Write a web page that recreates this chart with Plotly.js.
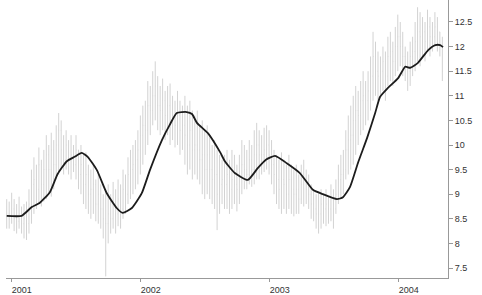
<!DOCTYPE html>
<html>
<head>
<meta charset="utf-8">
<script src="https://cdn.plot.ly/plotly-3.0.1.min.js"></script>
<style>html,body{margin:0;padding:0;background:#fff;}#chart{width:482px;height:295px;}</style>
</head>
<body>
<div id="chart"></div>
<script>
// Weekly bars starting 2000-12-18
const startDate = '2000-12-18';
const high = [
8.9,8.85,9.03,8.9,8.8,8.95,8.75,8.8,8.85,9.1,
9.5,9.75,9.6,9.95,9.7,9.9,10.2,10.0,10.25,10.1,
10.4,10.65,10.5,10.2,10.3,10.1,10.2,10.0,10.2,9.9,
10.0,9.8,9.85,9.6,9.5,9.6,9.3,9.4,9.2,9.0,
9.1,9.2,9.0,9.25,9.1,9.3,9.2,9.5,9.4,9.75,
9.9,10.0,10.1,10.3,10.6,10.8,10.9,11.3,11.2,11.5,
11.7,11.4,11.2,11.35,11.1,11.2,11.25,11.0,10.9,11.1,
10.9,10.8,11.0,10.8,10.9,10.7,10.6,10.7,10.4,10.5,
10.3,10.4,10.2,10.0,10.1,9.9,9.8,9.7,9.8,9.9,
9.7,9.9,9.8,9.6,9.8,10.1,10.0,9.9,10.1,10.0,
10.3,10.45,10.3,10.2,10.35,10.4,10.3,10.1,9.9,9.8,
9.7,9.85,9.7,9.6,9.8,9.6,9.5,9.6,9.4,9.6,
9.7,9.5,9.4,9.2,9.1,9.0,9.05,9.1,9.0,9.1,
8.95,9.2,9.1,9.3,9.6,9.8,9.9,10.3,10.6,10.8,
11.0,11.2,11.1,11.3,11.5,11.3,11.5,11.8,12.3,12.1,
11.9,11.8,12.0,11.9,12.2,12.3,12.1,12.4,12.65,12.5,
12.3,12.0,11.9,12.1,12.2,12.5,12.8,12.7,12.6,12.5,
12.75,12.6,12.5,12.7,12.6,12.3,12.2];
const low = [
8.3,8.3,8.4,8.25,8.2,8.3,8.2,8.1,8.07,8.2,
8.4,8.6,8.7,8.8,8.75,8.85,8.9,9.0,8.95,9.1,
9.3,9.4,9.5,9.4,9.5,9.4,9.3,9.45,9.3,9.1,
9.0,8.8,8.7,8.6,8.5,8.6,8.45,8.4,8.3,8.1,
7.33,8.0,8.2,8.3,8.2,8.35,8.3,8.5,8.6,8.8,
8.9,9.0,9.1,9.2,9.4,9.6,9.8,10.0,10.2,10.4,
10.5,10.3,10.2,10.3,10.1,10.2,10.0,10.1,9.95,10.0,
9.8,9.9,9.6,9.4,9.5,9.3,9.4,9.3,9.2,9.0,
8.9,9.0,8.9,8.8,8.7,8.27,8.6,8.8,8.7,8.7,
8.6,8.7,8.8,8.65,8.8,9.0,9.1,9.1,9.2,9.15,
9.2,9.3,9.3,9.4,9.45,9.5,9.4,9.2,9.0,8.8,
8.7,8.6,8.7,8.6,8.7,8.6,8.55,8.6,8.6,8.8,
8.75,8.8,8.7,8.5,8.45,8.3,8.2,8.3,8.4,8.35,
8.4,8.45,8.3,8.6,8.8,8.9,9.0,9.3,9.4,9.5,
9.6,9.8,10.0,10.2,10.3,10.4,10.5,10.7,10.9,11.0,
10.9,11.0,11.1,10.9,11.2,11.3,11.2,11.4,11.5,11.6,
11.4,11.3,11.1,11.2,11.4,11.5,11.7,11.6,11.8,11.7,
11.9,11.8,11.9,12.0,11.9,11.8,11.3];
const close = [
8.6,8.5,8.7,8.5,8.45,8.6,8.4,8.5,8.4,8.8,
9.2,9.3,9.1,9.6,9.2,9.5,9.8,9.5,9.9,9.6,
10.0,10.3,9.9,9.7,10.0,9.7,9.8,9.6,9.9,9.4,
9.6,9.2,9.4,9.0,9.1,9.2,8.8,9.0,8.7,8.5,
8.4,8.6,8.5,8.8,8.6,8.9,8.7,9.1,9.0,9.4,
9.5,9.6,9.7,9.9,10.2,10.4,10.3,10.8,10.7,11.0,
11.2,10.8,10.7,10.9,10.6,10.8,10.5,10.6,10.4,10.6,
10.3,10.4,10.2,10.0,10.3,9.9,10.0,9.9,9.7,9.8,
9.5,9.8,9.5,9.3,9.4,9.0,9.2,9.3,9.2,9.4,
9.1,9.3,9.2,9.1,9.3,9.6,9.5,9.4,9.7,9.5,
9.8,10.0,9.8,9.8,9.9,10.0,9.8,9.6,9.4,9.3,
9.1,9.3,9.2,9.0,9.3,9.1,9.0,9.1,8.9,9.2,
9.3,9.1,9.0,8.8,8.7,8.6,8.6,8.8,8.7,8.8,
8.7,8.9,8.7,9.0,9.3,9.4,9.5,9.9,10.1,10.2,
10.5,10.7,10.6,10.9,11.0,10.9,11.1,11.4,11.8,11.5,
11.4,11.5,11.7,11.4,11.8,11.9,11.7,12.0,12.2,12.0,
11.8,11.6,11.5,11.8,11.9,12.1,12.3,12.2,12.3,12.1,
12.4,12.2,12.2,12.4,12.3,12.0,11.5];

// Moving average line
const maDates = ['2000-12-18','2001-01-29','2001-02-27','2001-03-21','2001-04-19','2001-05-11','2001-06-06','2001-06-28','2001-07-18','2001-08-04','2001-08-30','2001-09-27','2001-10-25','2001-11-11','2001-12-07','2002-01-04','2002-01-27','2002-03-02','2002-03-24','2002-04-13','2002-05-11','2002-05-26','2002-06-09','2002-07-10','2002-08-13','2002-08-27','2002-09-24','2002-10-31','2002-11-28','2002-12-21','2003-01-16','2003-02-18','2003-03-27','2003-05-03','2003-05-31','2003-07-10','2003-07-27','2003-08-16','2003-09-08','2003-10-03','2003-10-26','2003-11-09','2003-12-01','2003-12-30','2004-01-19','2004-02-02','2004-02-24','2004-03-24','2004-04-13','2004-04-27','2004-05-05'];
const maValues = [8.56,8.56,8.74,8.82,9.04,9.41,9.67,9.76,9.84,9.76,9.49,9.02,8.72,8.62,8.72,9.02,9.49,10.10,10.41,10.65,10.67,10.63,10.45,10.24,9.86,9.67,9.43,9.29,9.53,9.70,9.78,9.63,9.43,9.09,9.00,8.90,8.94,9.15,9.65,10.14,10.65,10.98,11.16,11.36,11.59,11.57,11.67,11.93,12.03,12.03,11.99];

const yearTicks = ['2001-01-01','2002-01-01','2003-01-01','2004-01-01'];
const yearLabels = ['2001','2002','2003','2004'];

const dates = [];
const d0 = new Date(startDate + 'T00:00:00Z');
for (let i = 0; i < high.length; i++) {
  const d = new Date(d0.getTime() + i * 7 * 86400000);
  dates.push(d.toISOString().slice(0, 10));
}
const open = close.map((c, i) => i === 0 ? c : close[i - 1]);

const bars = {
  type: 'ohlc', x: dates, open: open, high: high, low: low, close: close,
  increasing: {line: {color: '#d2d2d2', width: 1}},
  decreasing: {line: {color: '#d2d2d2', width: 1}},
  tickwidth: 0.15, hoverinfo: 'skip', showlegend: false
};
const ma = {
  type: 'scatter', mode: 'lines', x: maDates, y: maValues,
  line: {color: '#1c1c1c', width: 1.8, shape: 'spline', smoothing: 0.5},
  hoverinfo: 'skip', showlegend: false
};

const layout = {
  width: 482, height: 295,
  margin: {l: 6, r: 34, t: 0, b: 17, pad: 0},
  paper_bgcolor: '#fff', plot_bgcolor: '#fff',
  font: {family: 'Liberation Sans, Arial, sans-serif', size: 9, color: '#333'},
  xaxis: {
    type: 'date', range: ['2000-12-16', '2004-05-19'],
    tickvals: yearTicks, ticktext: yearLabels,
    showgrid: false, zeroline: false,
    showline: true, linecolor: '#999', linewidth: 1,
    ticks: 'outside', ticklen: 3, tickcolor: '#999',
    ticklabelshift: 10,
    rangeslider: {visible: false}, fixedrange: true
  },
  yaxis: {
    side: 'right', range: [7.297, 12.947],
    tickvals: [7.5, 8, 8.5, 9, 9.5, 10, 10.5, 11, 11.5, 12, 12.5],
    showgrid: false, zeroline: false,
    showline: true, linecolor: '#999', linewidth: 1,
    ticks: 'outside', ticklen: 4, tickcolor: '#999',
    fixedrange: true
  }
};

Plotly.newPlot('chart', [bars, ma], layout, {displayModeBar: false, staticPlot: true});
</script>
</body>
</html>
